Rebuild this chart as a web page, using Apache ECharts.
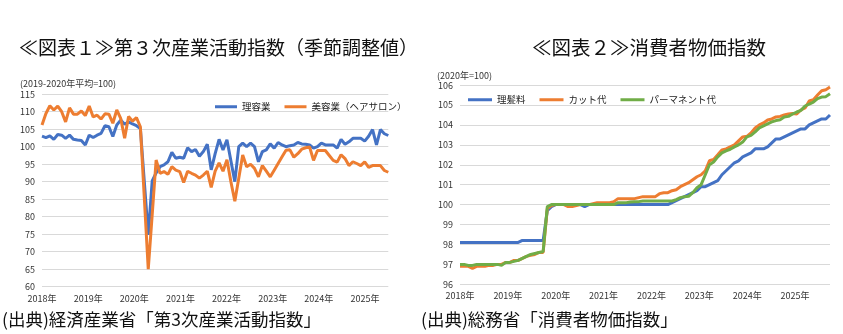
<!DOCTYPE html>
<html>
<head>
<meta charset="utf-8">
<script src="https://cdn.jsdelivr.net/npm/echarts@6/dist/echarts.min.js"></script>
<style>
  html, body { margin: 0; padding: 0; background: #fff; }
  #c { width: 843px; height: 334px; }
</style>
</head>
<body>
<div id="c"></div>
<script>
// Monthly category labels, e.g. "2018/1"
function monthRange(year, month, count) {
  const out = [];
  for (let k = 0; k < count; k++) {
    const m = month - 1 + k;
    out.push((year + Math.floor(m / 12)) + '/' + (m % 12 + 1));
  }
  return out;
}

const yearLabels = ['2018年', '2019年', '2020年', '2021年', '2022年', '2023年', '2024年', '2025年'];

// 第3次産業活動指数（季節調整値, 2019-2020年平均=100）, 2018/1–2025/5
const tertiaryMonths = monthRange(2018, 1, 89);
const barber = [ // 理容業
  103.0, 102.6, 103.1, 102.1, 103.5, 103.3, 102.4, 103.3, 102.1, 101.9, 101.8, 100.5,
  103.3, 102.6, 103.3, 103.8, 106.0, 105.7, 102.9, 106.2, 107.6, 106.4, 107.1, 106.5,
  106.0, 105.2, 90.0, 74.8, 90.2, 92.5, 94.3, 94.8, 95.7, 98.4, 96.7, 97.0,
  96.7, 99.7, 98.6, 99.2, 97.3, 98.6, 100.7, 93.4, 98.0, 102.1, 99.1, 102.0,
  96.0, 90.0, 100.0, 101.0, 100.0, 101.0, 100.0, 95.7, 98.6, 99.1, 100.8, 99.6,
  101.2, 100.5, 100.0, 100.3, 100.5, 101.2, 100.8, 100.7, 100.5, 99.6, 100.0, 101.0,
  100.5, 100.5, 100.5, 99.6, 102.1, 100.7, 101.4, 102.4, 102.4, 102.4, 101.6, 103.0,
  104.9, 100.5, 104.9, 103.7, 103.2
];
const salon = [ // 美容業（ヘアサロン）
  106.2, 109.5, 111.7, 110.5, 111.6, 110.0, 107.1, 111.1, 109.3, 109.3, 110.2, 108.9,
  111.6, 108.5, 109.0, 107.9, 109.4, 109.3, 106.7, 110.5, 108.1, 102.4, 108.6, 107.3,
  108.3, 105.7, 85.4, 65.0, 80.5, 96.2, 92.4, 92.9, 92.1, 94.3, 93.3, 92.9,
  89.8, 93.0, 92.4, 91.9, 91.0, 91.9, 93.0, 88.4, 93.0, 95.4, 93.0, 96.3,
  90.0, 84.4, 91.0, 97.6, 94.3, 95.0, 93.8, 91.4, 94.6, 93.0, 91.4, 93.3,
  95.2, 97.1, 99.0, 99.1, 97.0, 98.0, 99.3, 99.7, 99.9, 96.1, 98.9, 98.9,
  98.9, 97.5, 96.1, 95.6, 97.7, 96.6, 94.6, 95.7, 95.2, 94.6, 95.7, 94.1,
  94.6, 94.6, 94.6, 93.2, 92.7
];

// 消費者物価指数（2020年=100）, 2018/1–2025/6
const cpiMonths = monthRange(2018, 1, 90);
const haircutFee = [ // 理髪料
  98.1, 98.1, 98.1, 98.1, 98.1, 98.1, 98.1, 98.1, 98.1, 98.1, 98.1, 98.1,
  98.1, 98.1, 98.1, 98.2, 98.2, 98.2, 98.2, 98.2, 98.2, 99.7, 99.9, 100.0,
  100.0, 100.0, 100.0, 100.0, 100.0, 100.0, 99.9, 100.0, 100.0, 100.0, 100.0, 100.0,
  100.0, 100.0, 100.0, 100.0, 100.0, 100.0, 100.0, 100.0, 100.0, 100.0, 100.0, 100.0,
  100.0, 100.0, 100.0, 100.1, 100.2, 100.3, 100.4, 100.5, 100.6, 100.7, 100.9, 100.9,
  101.0, 101.1, 101.2, 101.5, 101.7, 101.9, 102.1, 102.2, 102.4, 102.5, 102.6, 102.8,
  102.8, 102.8, 102.9, 103.1, 103.3, 103.3, 103.4, 103.5, 103.6, 103.7, 103.8, 103.8,
  104.0, 104.1, 104.2, 104.3, 104.3, 104.5
];
const cutFee = [ // カット代
  96.9, 96.9, 96.9, 96.8, 96.9, 96.9, 96.9, 96.95, 96.95, 97.0, 97.0, 97.1,
  97.1, 97.2, 97.2, 97.3, 97.4, 97.45, 97.5, 97.6, 97.6, 99.8, 99.95, 100.0,
  100.0, 100.0, 99.9, 99.9, 99.95, 100.0, 100.0, 100.0, 100.05, 100.1, 100.1, 100.1,
  100.1, 100.15, 100.3, 100.3, 100.3, 100.3, 100.3, 100.35, 100.4, 100.4, 100.4, 100.4,
  100.55, 100.6, 100.6, 100.7, 100.75, 100.9, 101.0, 101.1, 101.25, 101.4, 101.5, 101.7,
  102.2, 102.27, 102.5, 102.75, 102.8, 102.9, 103.0, 103.2, 103.4, 103.43, 103.6, 103.85,
  104.0, 104.1, 104.25, 104.3, 104.4, 104.43, 104.5, 104.55, 104.57, 104.55, 104.75, 104.85,
  105.2, 105.27, 105.5, 105.72, 105.77, 105.9
];
const permFee = [ // パーマネント代
  97.0, 97.0, 96.95, 96.95, 97.0, 97.0, 97.0, 97.0, 97.0, 97.0, 96.95, 97.1,
  97.1, 97.15, 97.2, 97.3, 97.4, 97.5, 97.55, 97.6, 97.65, 99.9, 100.0, 100.0,
  100.0, 100.0, 100.0, 100.0, 100.0, 100.0, 100.0, 100.0, 100.0, 100.0, 100.0, 100.0,
  100.0, 100.0, 100.1, 100.1, 100.1, 100.13, 100.15, 100.15, 100.18, 100.18, 100.18, 100.18,
  100.18, 100.18, 100.18, 100.18, 100.25, 100.35, 100.4, 100.42, 100.6, 100.85, 101.0, 101.5,
  102.0, 102.14, 102.4, 102.6, 102.7, 102.78, 102.9, 103.0, 103.14, 103.4, 103.48, 103.65,
  103.85, 103.95, 104.05, 104.15, 104.22, 104.26, 104.4, 104.43, 104.55, 104.65, 104.73, 104.95,
  105.05, 105.15, 105.32, 105.4, 105.42, 105.57
];

const FONT = "'Noto Sans CJK JP', 'Noto Sans', sans-serif";
const BLUE = '#4472C4', ORANGE = '#ED7D31', GREEN = '#70AD47';
const GRID_LINE = '#d9d9d9';
const TICK_TEXT = '#333333';

const smallText = { fontFamily: FONT, fontSize: 9, color: TICK_TEXT };

function dataAxis(gridIndex, data) {
  return {
    type: 'category', gridIndex, data, boundaryGap: false,
    axisLine: { show: false }, axisTick: { show: false },
    axisLabel: { show: false }, splitLine: { show: false }
  };
}
function yearAxis(gridIndex, span) {
  return {
    type: 'value', gridIndex, position: 'bottom', min: 0, max: span, interval: 1,
    axisLine: { show: false }, axisTick: { show: false }, splitLine: { show: false },
    axisLabel: Object.assign({
      margin: 7, showMaxLabel: false,
      formatter: v => (Number.isInteger(v) && yearLabels[v]) ? yearLabels[v] : ''
    }, smallText)
  };
}
function valueAxis(gridIndex, min, max, interval) {
  return {
    type: 'value', gridIndex, min, max, interval,
    axisLine: { show: false }, axisTick: { show: false },
    splitLine: { lineStyle: { color: GRID_LINE, width: 1 } },
    axisLabel: Object.assign({ margin: 7 }, smallText)
  };
}
function lineSeries(name, data, color, xi, yi) {
  return {
    type: 'line', name, data, xAxisIndex: xi, yAxisIndex: yi,
    showSymbol: false, symbol: 'none', smooth: false,
    lineStyle: { color, width: 3 }, itemStyle: { color },
    emphasis: { disabled: true }, animation: false
  };
}
const legendBase = {
  icon: 'rect', itemWidth: 22, itemHeight: 3, itemGap: 14,
  textStyle: { fontFamily: FONT, fontSize: 9.5, color: '#222' },
  selectedMode: false
};

const chart = echarts.init(document.getElementById('c'), null, { renderer: 'canvas' });
chart.setOption({
  backgroundColor: '#ffffff',
  animation: false,
  title: [
    { text: '≪図表１≫第３次産業活動指数（季節調整値）', left: 14, top: 33,
      textStyle: { fontFamily: FONT, fontSize: 19, fontWeight: 'normal', color: '#111' } },
    { text: '≪図表２≫消費者物価指数', left: 527, top: 33,
      textStyle: { fontFamily: FONT, fontSize: 19.5, fontWeight: 'normal', color: '#111' } },
    { text: '(2019-2020年平均=100)', left: 15, top: 74,
      textStyle: { fontFamily: FONT, fontSize: 9, fontWeight: 'normal', color: TICK_TEXT } },
    { text: '(2020年=100)', left: 432, top: 66,
      textStyle: { fontFamily: FONT, fontSize: 9, fontWeight: 'normal', color: TICK_TEXT } }
  ],
  legend: [
    Object.assign({ data: ['理容業', '美容業（ヘアサロン）'], left: 210, top: 97 }, legendBase),
    Object.assign({ data: ['理髪料', 'カット代', 'パーマネント代'], left: 463, top: 90 }, legendBase, { itemWidth: 24 })
  ],
  grid: [
    { left: 42, top: 94.2, width: 346.3, height: 192.5 },
    { left: 460, top: 85.1, width: 370, height: 199.2 }
  ],
  xAxis: [
    dataAxis(0, tertiaryMonths),
    yearAxis(0, 7.505),
    dataAxis(1, cpiMonths),
    yearAxis(1, 7.73)
  ],
  yAxis: [
    valueAxis(0, 60, 115, 5),
    valueAxis(1, 96, 106, 1)
  ],
  series: [
    lineSeries('理容業', barber, BLUE, 0, 0),
    lineSeries('美容業（ヘアサロン）', salon, ORANGE, 0, 0),
    lineSeries('理髪料', haircutFee, BLUE, 2, 1),
    lineSeries('カット代', cutFee, ORANGE, 2, 1),
    lineSeries('パーマネント代', permFee, GREEN, 2, 1)
  ],
  graphic: [
    { type: 'text', left: 2, top: 311,
      style: { text: '(出典)経済産業省「第3次産業活動指数」', fontFamily: FONT, fontSize: 17.5, fill: '#111' } },
    { type: 'text', left: 421, top: 311,
      style: { text: '(出典)総務省「消費者物価指数」', fontFamily: FONT, fontSize: 17.5, fill: '#111' } }
  ]
});
</script>
</body>
</html>
